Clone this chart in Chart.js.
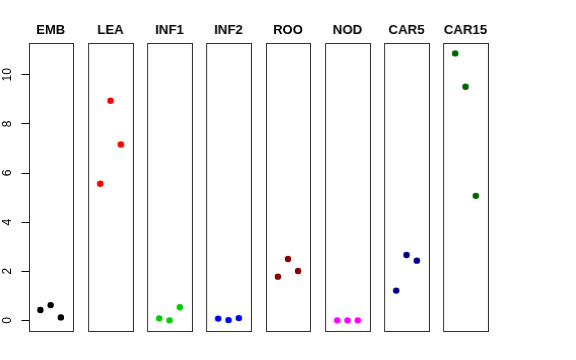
<!DOCTYPE html>
<html>
<head>
<meta charset="utf-8">
<script src="https://cdn.jsdelivr.net/npm/chart.js@4/dist/chart.umd.min.js"></script>
<style>
    html, body { margin: 0; padding: 0; background: #fff; }
    #wrap { position: relative; width: 576px; height: 360px; overflow: hidden; }
    #wrap canvas { position: absolute; top: 0; }
</style>
</head>
<body>
<div id="wrap"></div>
<script>
// Nombres de los paneles y colores de cada grupo.
const PANELES = ['EMB', 'LEA', 'INF1', 'INF2', 'ROO', 'NOD', 'CAR5', 'CAR15'];
const COLORES = ['#000000', '#ff0000', '#00cd00', '#0000ff', '#8b0000', '#ff00ff', '#000080', '#006400'];
// Posiciones en x de los tres puntos de cada panel.
const POSICIONES = [1, 2, 3];
const EMB = [0.42, 0.62, 0.12];
const LEA = [5.56, 8.94, 7.16];
const INF1 = [0.08, 0.00, 0.53];
const INF2 = [0.07, 0.01, 0.09];
const ROO = [1.78, 2.50, 2.01];
const NOD = [0.00, 0.00, 0.00];
const CAR5 = [1.21, 2.66, 2.43];
const CAR15 = [10.87, 9.51, 5.07];
const VALORES = [EMB, LEA, INF1, INF2, ROO, NOD, CAR5, CAR15];
// Marcas del eje y.
const MARCAS_Y = [0, 2, 4, 6, 8, 10];

// Geometría de los paneles.
const PANEL_IZQ = 28.5;
const PANEL_PASO = 59.25;
const PANEL_ANCHO = 44.75;
const MARGEN = 3;

// Plugin para dibujar la caja y el título de cada panel.
const cajaPanel = {
    id: 'cajaPanel',
    afterDraw(chart, args, opts) {
        const { ctx, chartArea } = chart;
        ctx.save();
        ctx.strokeStyle = '#333';
        ctx.lineWidth = 1;
        const l = Math.round(chartArea.left) + 0.5;
        const r = Math.round(chartArea.right) + 0.5;
        const t = Math.round(chartArea.top) + 0.5;
        const b = Math.round(chartArea.bottom) + 0.5;
        ctx.strokeRect(l, t, r - l, b - t);
        ctx.fillStyle = '#000';
        ctx.font = 'bold 13px "Liberation Sans", Arial, sans-serif';
        ctx.textAlign = 'center';
        ctx.textBaseline = 'alphabetic';
        ctx.fillText(opts.titulo, (chartArea.left + chartArea.right) / 2, 34);
        ctx.restore();
    }
};

const wrap = document.getElementById('wrap');

PANELES.forEach((nombre, i) => {
    const primero = i === 0;
    const izq = PANEL_IZQ + PANEL_PASO * i;
    const canvas = document.createElement('canvas');
    const ejeY = primero ? izq : 0;
    const x0 = primero ? 0 : izq - MARGEN;
    const ancho = primero ? izq + PANEL_ANCHO + MARGEN : PANEL_ANCHO + 2 * MARGEN;
    canvas.style.left = x0 + 'px';
    canvas.style.width = ancho + 'px';
    canvas.style.height = '360px';
    canvas.width = ancho;
    canvas.height = 360;
    wrap.appendChild(canvas);

    new Chart(canvas, {
        type: 'scatter',
        data: {
            datasets: [{
                data: POSICIONES.map((x, k) => ({ x: x, y: VALORES[i][k] })),
                backgroundColor: COLORES[i],
                borderColor: COLORES[i],
                pointRadius: 3.2,
                pointHoverRadius: 3.2,
                borderWidth: 0
            }]
        },
        options: {
            responsive: false,
            animation: false,
            events: [],
            layout: {
                padding: { top: 43, bottom: 29, left: primero ? 0 : MARGEN, right: MARGEN }
            },
            plugins: {
                legend: { display: false },
                tooltip: { enabled: false },
                title: { display: false },
                cajaPanel: { titulo: nombre }
            },
            scales: {
                x: {
                    type: 'linear',
                    min: -0.16,
                    max: 4.16,
                    display: false
                },
                y: {
                    type: 'linear',
                    min: -0.4344,
                    max: 11.2944,
                    display: primero,
                    afterFit: (scale) => { scale.width = ejeY; },
                    afterBuildTicks: (scale) => { scale.ticks = MARCAS_Y.map(v => ({ value: v })); },
                    border: { display: false },
                    grid: {
                        drawOnChartArea: false,
                        drawTicks: true,
                        tickLength: 7,
                        color: '#000',
                        lineWidth: 1
                    },
                    ticks: {
                        minRotation: 90,
                        maxRotation: 90,
                        crossAlign: 'center',
                        padding: 7,
                        color: '#000',
                        font: { family: '"Liberation Sans", Arial, sans-serif', size: 12 }
                    }
                }
            }
        },
        plugins: [cajaPanel]
    });
});
</script>
</body>
</html>
